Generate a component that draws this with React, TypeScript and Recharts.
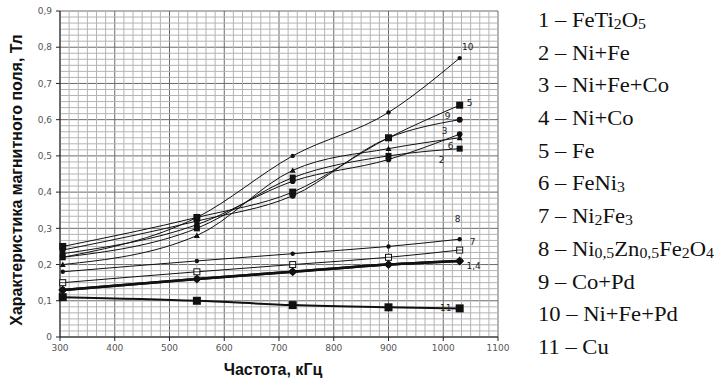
import React from 'react';
import { LineChart, Line, XAxis, YAxis, CartesianGrid, ReferenceLine } from 'recharts';

// frequency, kHz
const freq = [305, 550, 725, 900, 1030];

// magnetic field, T
const s1 = [0.13, 0.16, 0.18, 0.2, 0.21];
const s2 = [0.2, 0.28, 0.46, 0.52, 0.55];
const s3 = [0.23, 0.31, 0.43, 0.49, 0.56];
const s4 = [0.13, 0.16, 0.18, 0.2, 0.21];
const s5 = [0.25, 0.33, 0.4, 0.55, 0.64];
const s6 = [0.22, 0.3, 0.44, 0.5, 0.52];
const s7 = [0.15, 0.18, 0.2, 0.22, 0.24];
const s8 = [0.18, 0.21, 0.23, 0.25, 0.27];
const s9 = [0.24, 0.32, 0.39, 0.55, 0.6];
const s10 = [0.22, 0.33, 0.5, 0.62, 0.77];
const s11 = [0.11, 0.1, 0.088, 0.082, 0.079];

const xTicks = [300, 400, 500, 600, 700, 800, 900, 1000, 1100];
const yTicks = [0, 0.1, 0.2, 0.3, 0.4, 0.5, 0.6, 0.7, 0.8, 0.9];

const legendItems = [
  '1 – FeTi_{2}O_{5}',
  '2 – Ni+Fe',
  '3 – Ni+Fe+Co',
  '4 – Ni+Co',
  '5 – Fe',
  '6 – FeNi_{3}',
  '7 – Ni_{2}Fe_{3}',
  '8 – Ni_{0,5}Zn_{0,5}Fe_{2}O_{4}',
  '9 – Co+Pd',
  '10 – Ni+Fe+Pd',
  '11 – Cu',
];

const data = freq.map((f, i) => ({
  f,
  s1: s1[i], s2: s2[i], s3: s3[i], s4: s4[i], s5: s5[i], s6: s6[i],
  s7: s7[i], s8: s8[i], s9: s9[i], s10: s10[i], s11: s11[i],
}));

// minor grid: 6 divisions per major step
const minorX: number[] = [];
for (let v = 300; v < 1100; v += 100) for (let k = 1; k < 6; k++) minorX.push(v + (k * 100) / 6);
const minorY: number[] = [];
for (let v = 0; v < 0.9; v += 0.1) for (let k = 1; k < 6; k++) minorY.push(v + (k * 0.1) / 6);

type Kind = 'square' | 'hsquare' | 'circle' | 'triangle' | 'diamond';

function Marker({ cx, cy, kind, s = 3 }: { cx: number; cy: number; kind: Kind; s?: number }) {
  if (cx == null || cy == null) return null;
  if (kind === 'square')
    return <rect x={cx - s} y={cy - s} width={s * 2} height={s * 2} fill="#111" />;
  if (kind === 'hsquare')
    return (
      <g>
        <rect x={cx - s} y={cy - s} width={s * 2} height={s * 2} fill="#fff" stroke="#111" strokeWidth={1} />
        <line x1={cx - s} x2={cx + s} y1={cy} y2={cy} stroke="#111" strokeWidth={0.8} />
      </g>
    );
  if (kind === 'triangle')
    return <path d={`M${cx},${cy - s} L${cx + s},${cy + s * 0.8} L${cx - s},${cy + s * 0.8} Z`} fill="#111" />;
  if (kind === 'diamond')
    return <path d={`M${cx},${cy - s} L${cx + s},${cy} L${cx},${cy + s} L${cx - s},${cy} Z`} fill="#111" />;
  return <circle cx={cx} cy={cy} r={s} fill="#111" />;
}

const series: { key: string; kind: Kind; w: number; s: number; tag: string; dx: number; dy: number }[] = [
  { key: 's11', kind: 'square', w: 2, s: 4, tag: '11', dx: -14, dy: 3 },
  { key: 's1', kind: 'diamond', w: 2.5, s: 4.5, tag: '', dx: 0, dy: 0 },
  { key: 's4', kind: 'circle', w: 2.5, s: 3, tag: '1,4', dx: 14, dy: 8 },
  { key: 's7', kind: 'hsquare', w: 1, s: 3, tag: '7', dx: 13, dy: -5 },
  { key: 's8', kind: 'circle', w: 1, s: 2.2, tag: '8', dx: -2, dy: -17 },
  { key: 's2', kind: 'triangle', w: 1, s: 3, tag: '2', dx: -18, dy: 25 },
  { key: 's6', kind: 'square', w: 1, s: 3, tag: '6', dx: -9, dy: 0 },
  { key: 's3', kind: 'circle', w: 1, s: 2.8, tag: '3', dx: -15, dy: 0 },
  { key: 's9', kind: 'circle', w: 1, s: 3, tag: '9', dx: -12, dy: -1 },
  { key: 's5', kind: 'square', w: 1, s: 3.5, tag: '5', dx: 10, dy: 1 },
  { key: 's10', kind: 'circle', w: 1, s: 2.2, tag: '10', dx: 8, dy: -8 },
];

function LegendText({ text }: { text: string }) {
  const parts = text.split(/(_\{[^}]*\})/);
  return (
    <>
      {parts.map((p, i) =>
        p.startsWith('_{') ? (
          <span key={i} style={{ fontSize: 14, verticalAlign: '-2px', lineHeight: 0 }}>{p.slice(2, -1)}</span>
        ) : (
          <span key={i}>{p}</span>
        )
      )}
    </>
  );
}

const fmtY = (v: number) => (v === 0 ? '0' : v.toFixed(1).replace('.', ','));

export default function App() {
  const last = freq.length - 1;
  return (
    <div style={{ position: 'absolute', left: 0, top: 0, width: 722, height: 380, background: '#fff' }}>
      <LineChart width={722} height={380} data={data} margin={{ top: 11, right: 224, bottom: 23, left: 0 }}>
        {minorX.map((v) => (
          <ReferenceLine key={'mx' + v} x={v} stroke="#b4b4b4" strokeWidth={1} />
        ))}
        {minorY.map((v) => (
          <ReferenceLine key={'my' + v} y={v} stroke="#b4b4b4" strokeWidth={1} />
        ))}
        <CartesianGrid stroke="#6a6a6a" strokeWidth={1} />
        <XAxis
          dataKey="f"
          type="number"
          domain={[300, 1100]}
          ticks={xTicks}
          height={20}
          stroke="#222"
          tickSize={4}
          tick={{ fontSize: 9, fontFamily: 'DejaVu Sans', fill: '#555' }}
          tickMargin={4}
        />
        <YAxis
          type="number"
          domain={[0, 0.9]}
          ticks={yTicks}
          width={60}
          stroke="#222"
          tickSize={4}
          tickFormatter={fmtY}
          tick={{ fontSize: 9, fontFamily: 'DejaVu Sans', fill: '#555' }}
          tickMargin={4}
        />
        {series.map((sr) => (
          <Line
            key={sr.key}
            dataKey={sr.key}
            type="monotone"
            stroke="#111"
            strokeWidth={sr.w}
            isAnimationActive={false}
            dot={(p: any) => <Marker key={sr.key + p.index} cx={p.cx} cy={p.cy} kind={sr.kind} s={sr.s} />}
            activeDot={false}
            label={(p: any) =>
              p.index === last && sr.tag ? (
                <text
                  key={sr.key + 'lbl'}
                  x={p.x + sr.dx}
                  y={p.y + sr.dy}
                  fontSize={9}
                  fontFamily="DejaVu Sans"
                  fill="#222"
                  textAnchor="middle"
                >
                  {sr.tag}
                </text>
              ) : (
                <g key={sr.key + 'n' + p.index} />
              )
            }
          />
        ))}
        <text
          x={273}
          y={375}
          textAnchor="middle"
          fontFamily="Liberation Sans"
          fontWeight="bold"
          fontSize={16}
          fill="#111"
        >
          Частота, кГц
        </text>
        <text
          x={0}
          y={0}
          transform="translate(22,180) rotate(-90)"
          textAnchor="middle"
          fontFamily="Liberation Sans"
          fontWeight="bold"
          fontSize={16}
          fill="#111"
        >
          Характеристика магнитного поля, Тл
        </text>
      </LineChart>
      <div
        style={{
          position: 'absolute',
          left: 538,
          top: 4,
          fontFamily: 'Liberation Serif',
          fontSize: 20,
          color: '#111',
          whiteSpace: 'nowrap',
          transform: 'scaleX(1.13)',
          transformOrigin: '0 0',
        }}
      >
        {legendItems.map((t) => (
          <div key={t} style={{ height: 32.7, lineHeight: '32.7px' }}>
            <LegendText text={t} />
          </div>
        ))}
      </div>
    </div>
  );
}
